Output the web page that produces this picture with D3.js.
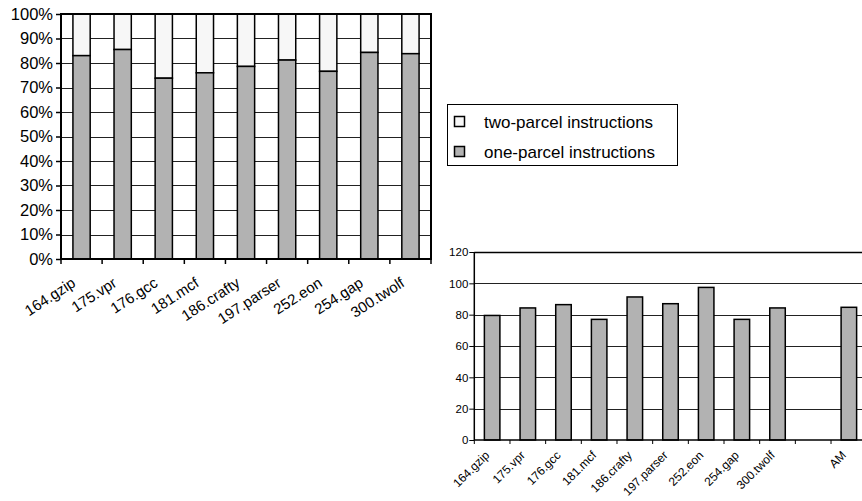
<!DOCTYPE html>
<html>
<head>
<meta charset="utf-8">
<script src="https://cdn.jsdelivr.net/npm/d3@7"></script>
<style>
  html, body { margin: 0; padding: 0; background: #fff; }
  svg { display: block; font-family: Arial, "Liberation Sans", sans-serif; }
</style>
</head>
<body>
<svg id="chart" width="862" height="501"></svg>
<script>
// ---------- data ----------
const benchmarks = ["164.gzip", "175.vpr", "176.gcc", "181.mcf", "186.crafty", "197.parser", "252.eon", "254.gap", "300.twolf"];
const oneParcel = [0.83, 0.855, 0.738, 0.76, 0.786, 0.812, 0.766, 0.843, 0.838];
const twoParcel = oneParcel.map(v => 1 - v);
const pctTicks = [0, 0.1, 0.2, 0.3, 0.4, 0.5, 0.6, 0.7, 0.8, 0.9, 1.0];

const cats2 = ["164.gzip", "175.vpr", "176.gcc", "181.mcf", "186.crafty", "197.parser", "252.eon", "254.gap", "300.twolf", "", "AM"];
const values2 = [79.5, 84.3, 86.4, 77.0, 91.3, 87.0, 97.4, 77.0, 84.3, null, 84.7];
const ticks2 = [0, 20, 40, 60, 80, 100, 120];

const legendLabels = ["two-parcel instructions", "one-parcel instructions"];
const colOne = "#b2b2b2", colTwo = "#f7f7f7";

const svg = d3.select("#chart");

// ---------- top chart ----------
(function () {
  const L = 61, R = 431, T = 14, B = 259;
  const x = d3.scaleBand().domain(benchmarks).range([L, R]).paddingInner(0.58).paddingOuter(0.29);
  const y = d3.scaleLinear().domain([0, 1]).range([B, T]);
  const g = svg.append("g");

  g.selectAll("line.grid").data(pctTicks).join("line")
    .attr("x1", L).attr("x2", R)
    .attr("y1", d => Math.round(y(d)) + 0.5).attr("y2", d => Math.round(y(d)) + 0.5)
    .attr("stroke", "#222").attr("stroke-width", 1);

  // stacked bars
  g.selectAll("rect.two").data(benchmarks).join("rect")
    .attr("x", d => x(d)).attr("width", x.bandwidth())
    .attr("y", (d, i) => y(1)).attr("height", (d, i) => y(oneParcel[i]) - y(1))
    .attr("fill", colTwo).attr("stroke", "#000").attr("stroke-width", 1.5);
  g.selectAll("rect.one").data(benchmarks).join("rect")
    .attr("x", d => x(d)).attr("width", x.bandwidth())
    .attr("y", (d, i) => y(oneParcel[i])).attr("height", (d, i) => y(0) - y(oneParcel[i]))
    .attr("fill", colOne).attr("stroke", "#000").attr("stroke-width", 1.5);

  // frame
  g.append("rect").attr("x", L).attr("y", T).attr("width", R - L).attr("height", B - T)
    .attr("fill", "none").attr("stroke", "#000").attr("stroke-width", 2);

  // y axis
  const ya = d3.axisLeft(y).tickValues(pctTicks).tickFormat(d3.format(".0%")).tickSize(5).tickSizeOuter(0);
  const yg = g.append("g").attr("transform", `translate(${L},0)`).call(ya);
  yg.select(".domain").remove();
  yg.selectAll("line").attr("stroke", "#000").attr("stroke-width", 1.5);
  yg.selectAll("text").attr("font-size", 16.5).attr("fill", "#000").attr("font-family", "Arial, 'Liberation Sans', sans-serif").attr("x", -8);

  // x ticks at band boundaries
  const bounds = benchmarks.map(d => x(d) - x.step() * x.paddingInner() / 2);
  bounds.push(R);
  g.selectAll("line.xt").data(bounds).join("line")
    .attr("x1", d => d).attr("x2", d => d).attr("y1", B).attr("y2", B + 5)
    .attr("stroke", "#000").attr("stroke-width", 1.5);

  g.selectAll("text.xl").data(benchmarks).join("text")
    .attr("transform", d => `translate(${x(d) + x.bandwidth() / 2 - 5},${B + 26.5}) rotate(-33)`)
    .attr("text-anchor", "end").attr("font-size", 15).attr("fill", "#000")
    .text(d => d);
})();

// ---------- legend ----------
(function () {
  const g = svg.append("g");
  g.append("rect").attr("x", 447.5).attr("y", 104.5).attr("width", 230).attr("height", 61)
    .attr("fill", "#fff").attr("stroke", "#000").attr("stroke-width", 1);
  const fills = [colTwo, colOne];
  legendLabels.forEach((lab, i) => {
    const cy = 121.5 + i * 30;
    g.append("rect").attr("x", 454.5).attr("y", cy - 5).attr("width", 10).attr("height", 10)
      .attr("fill", fills[i]).attr("stroke", "#000").attr("stroke-width", 1.5);
    g.append("text").attr("x", 484).attr("y", cy + 6).attr("font-size", 17).attr("fill", "#000").text(lab);
  });
})();

// ---------- bottom chart ----------
(function () {
  const L = 474.3, R = 866.7, T = 252, B = 440;
  const x = d3.scaleBand().domain(cats2.map((c, i) => i)).range([L, R]).paddingInner(0.565).paddingOuter(0.2825);
  const y = d3.scaleLinear().domain([0, 120]).range([B, T]);
  const g = svg.append("g");

  g.selectAll("line.grid").data(ticks2.filter(d => d > 0)).join("line")
    .attr("x1", L).attr("x2", R)
    .attr("y1", d => Math.round(y(d)) + 0.5).attr("y2", d => Math.round(y(d)) + 0.5)
    .attr("stroke", d => d === 120 ? "#000" : "#222").attr("stroke-width", d => d === 120 ? 1.5 : 1);

  const idx = cats2.map((c, i) => i).filter(i => values2[i] != null);
  g.selectAll("rect.bar").data(idx).join("rect")
    .attr("x", i => x(i)).attr("width", x.bandwidth())
    .attr("y", i => y(values2[i])).attr("height", i => y(0) - y(values2[i]))
    .attr("fill", colOne).attr("stroke", "#000").attr("stroke-width", 1.5);

  // axes lines
  g.append("line").attr("x1", L).attr("x2", L).attr("y1", T).attr("y2", B).attr("stroke", "#000").attr("stroke-width", 1.5);
  g.append("line").attr("x1", L).attr("x2", R).attr("y1", B).attr("y2", B).attr("stroke", "#000").attr("stroke-width", 1.5);

  const ya = d3.axisLeft(y).tickValues(ticks2).tickSize(5).tickSizeOuter(0);
  const yg = g.append("g").attr("transform", `translate(${L},0)`).call(ya);
  yg.select(".domain").remove();
  yg.selectAll("line").attr("stroke", "#000").attr("stroke-width", 1);
  yg.selectAll("text").attr("font-size", 11.5).attr("fill", "#000").attr("font-family", "Arial, 'Liberation Sans', sans-serif").attr("x", -6);

  const bounds = cats2.map((c, i) => x(i) - x.step() * x.paddingInner() / 2);
  g.selectAll("line.xt").data(bounds).join("line")
    .attr("x1", d => d).attr("x2", d => d).attr("y1", B).attr("y2", B + 4)
    .attr("stroke", "#000").attr("stroke-width", 1);

  g.selectAll("text.xl").data(cats2.map((c, i) => i)).join("text")
    .attr("transform", i => `translate(${x(i) + x.bandwidth() / 2 - 2},${B + 16}) rotate(-45)`)
    .attr("text-anchor", "end").attr("font-size", 12).attr("fill", "#000")
    .text(i => cats2[i]);
})();
</script>
</body>
</html>
